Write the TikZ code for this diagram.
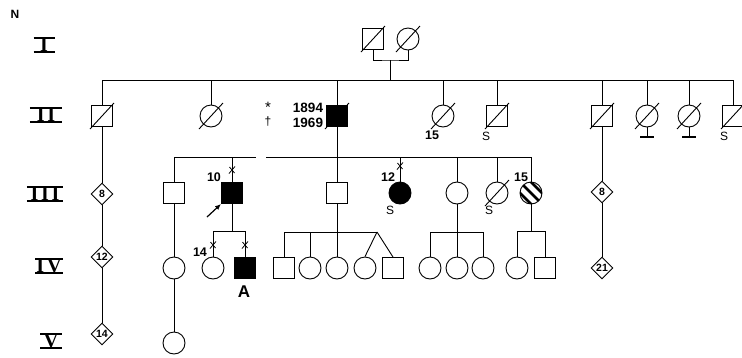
\documentclass[tikz,border=0pt]{standalone}
\usepackage{fontspec}
\usepackage{graphicx}
\setmainfont{Liberation Sans}
\newfontfamily\romfont[LetterSpace=14]{Liberation Serif}
\usetikzlibrary{shapes.geometric,arrows.meta}
\newcommand\rnum[2]{\vbox{\hrule height 2pt\kern-0.8pt\hbox to #1{\hss\romfont\bfseries\fontsize{20}{20}\selectfont #2\hss}\kern-0.6pt\hrule height 2pt}}
\tikzset{
 ln/.style={line width=0.9pt},
 male/.style={draw, line width=0.9pt, rectangle, minimum size=21pt, inner sep=0pt},
 female/.style={draw, line width=0.9pt, circle, minimum size=22pt, inner sep=0pt},
 unk/.style={draw, line width=0.9pt, diamond, minimum size=22pt, inner sep=0pt, font=\bfseries\fontsize{10.5}{10.5}\selectfont},
 aff/.style={fill=black},
 lbl/.style={inner sep=0pt, font=\bfseries\fontsize{12.5}{12.5}\selectfont},
 slbl/.style={inner sep=0pt, font=\fontsize{12}{12}\selectfont},
 yr/.style={inner sep=0pt, font=\bfseries\fontsize{13.5}{13.5}\selectfont},
 gen/.style={inner sep=0pt},
 stripes/.style={path picture={\foreach \k in {-11,-5.5,0,5.5,11} \draw[line width=2.7pt] ([shift={(\k pt+15pt,\k pt-15pt)}]path picture bounding box.center) -- ([shift={(\k pt-15pt,\k pt+15pt)}]path picture bounding box.center);}}
}
\newcommand\slashit[1]{\draw[ln] ([shift={(-12pt,-13pt)}]#1.center) -- ([shift={(12pt,13pt)}]#1.center);}
\newcommand\xmk[1]{\draw[line width=0.8pt] ([shift={(-3pt,-3.5pt)}]#1) -- ([shift={(3pt,3.5pt)}]#1) ([shift={(-2.5pt,3pt)}]#1) -- ([shift={(2.5pt,-3pt)}]#1);}
\begin{document}
\begin{tikzpicture}[x=1pt,y=-1pt]
\clip (0,0) rectangle (742,357);
\fill[white] (0,0) rectangle (742,357);
% generation labels
\node[inner sep=0pt,font=\bfseries\fontsize{12}{12}\selectfont] (N) at (15,14) {N};
\node[gen] (gI) at (44,45) {\rnum{21pt}{I}};
\node[gen] (gII) at (46,115) {\rnum{32pt}{II}};
\node[gen] (gIII) at (45,194) {\rnum{36pt}{III}};
\node[gen] (gIV) at (49,266) {\rnum{28pt}{IV}};
\node[gen] (gV) at (51,341) {\rnum{22pt}{V}};
% generation I
\node[male] (i1) at (373,39) {};
\node[female] (i2) at (408,39) {};
% generation II
\node[male] (ii1) at (102,116) {};
\node[female] (ii2) at (211,116) {};
\node[male,aff] (ii3) at (337,116) {};
\node[female] (ii4) at (443,116) {};
\node[male] (ii5) at (497,116) {};
\node[male] (ii6) at (602,116) {};
\node[female] (ii7) at (647,116) {};
\node[female] (ii8) at (689,116) {};
\node[male] (ii9) at (733,116) {};
% generation III
\node[unk] (iii1) at (102,194) {8};
\node[male] (iii2) at (174,193) {};
\node[male,aff] (iii3) at (232,193) {};
\node[male] (iii4) at (337,193) {};
\node[female,aff] (iii5) at (400,193) {};
\node[female] (iii6) at (457,193) {};
\node[female] (iii7) at (497,193) {};
\node[female,stripes] (iii8) at (531,193) {};
\node[unk] (iii9) at (602,192) {8};
% generation IV
\node[unk] (iv1) at (102,257) {12};
\node[female] (iv2) at (174,268) {};
\node[female] (iv3) at (213,268) {};
\node[male,aff] (iv4) at (245,268) {};
\node[male] (iv5) at (284,268) {};
\node[female] (iv6) at (310,268) {};
\node[female] (iv7) at (337,268) {};
\node[female] (iv8) at (365,268) {};
\node[male] (iv9) at (393,268) {};
\node[female] (iv10) at (430,268) {};
\node[female] (iv11) at (457,268) {};
\node[female] (iv12) at (483,268) {};
\node[female] (iv13) at (517,268) {};
\node[male] (iv14) at (545,268) {};
\node[unk] (iv15) at (602,268) {21};
% generation V
\node[unk] (v1) at (102,334) {14};
\node[female] (v2) at (174,343) {};
% deceased slashes
\foreach \n in {i1,i2,ii1,ii2,ii3,ii4,ii5,ii6,ii7,ii8,ii9,iii7} {\slashit{\n}}
% gen I marriage and sibship
\coordinate (m1) at (390,60);
\coordinate (s2) at (0,80);
\draw[ln] (i1.south) |- (m1) -| (i2.south);
\draw[ln] (m1) -- (m1 |- s2);
\draw[ln] (ii1.north |- s2) -- (ii9.north |- s2);
\foreach \n in {ii1,ii2,ii3,ii4,ii5,ii6,ii7,ii8,ii9} {\draw[ln] (\n.north) -- (\n.north |- s2);}
% bars under ii7 and ii8
\coordinate (b7) at (647,137);
\coordinate (b8) at (689,137);
\draw[ln] (ii7.south) -- (b7);
\draw[ln] (ii8.south) -- (b8);
\draw[line width=1.8pt] ([xshift=-7pt]b7) -- ([xshift=7pt]b7);
\draw[line width=1.8pt] ([xshift=-7pt]b8) -- ([xshift=7pt]b8);
% vertical lines of descent
\draw[ln] (ii1.south) -- (iii1.north);
\draw[ln] (iii1.south) -- (iv1.north);
\draw[ln] (iv1.south) -- (v1.north);
\draw[ln] (ii6.south) -- (iii9.north);
\draw[ln] (iii9.south) -- (iv15.north);
\draw[ln] (iii2.south) -- (iv2.north);
\draw[ln] (iv2.south) -- (v2.north);
% gen III sibship
\coordinate (s3) at (0,157);
\coordinate (gl) at (256,157);
\coordinate (gr) at (266,157);
\draw[ln] (ii3.south) -- (ii3.south |- s3);
\draw[ln] (iii2.north |- s3) -- (gl);
\draw[ln] (gr) -- (iii8.north |- s3);
\foreach \n in {iii2,iii3,iii4,iii5,iii6,iii7,iii8} {\draw[ln] (\n.north) -- (\n.north |- s3);}
% gen IV sibships
\coordinate (s4a) at (0,231);
\coordinate (s4) at (0,232);
\coordinate (tw) at (377,232);
\draw[ln] (iii3.south) -- (iii3.south |- s4a);
\draw[ln] (iv3.north |- s4a) -- (iv4.north |- s4a);
\foreach \n in {iv3,iv4} {\draw[ln] (\n.north) -- (\n.north |- s4a);}
\draw[ln] (iii4.south) -- (iii4.south |- s4);
\draw[ln] (iv5.north |- s4) -- (tw);
\foreach \n in {iv5,iv6,iv7} {\draw[ln] (\n.north) -- (\n.north |- s4);}
\draw[ln] (tw) -- (iv8.north);
\draw[ln] (tw) -- (iv9.north);
\draw[ln] (iii6.south) -- (iii6.south |- s4);
\draw[ln] (iv10.north |- s4) -- (iv12.north |- s4);
\foreach \n in {iv10,iv11,iv12} {\draw[ln] (\n.north) -- (\n.north |- s4);}
\draw[ln] (iii8.south) -- (iii8.south |- s4a);
\draw[ln] (iv13.north |- s4a) -- (iv14.north |- s4a);
\foreach \n in {iv13,iv14} {\draw[ln] (\n.north) -- (\n.north |- s4a);}
% cross marks
\coordinate (x10) at (232,170);
\coordinate (x12) at (400,166);
\coordinate (x14) at (213,245);
\coordinate (xA) at (245,245);
\xmk{x10} \xmk{x12} \xmk{x14} \xmk{xA}
% proband arrow
\coordinate (pa) at (207,217);
\draw[line width=1.2pt,-{Latex[length=6pt,width=5pt]}] (pa) -- (iii3.south west);
% labels
\node[yr] (y1) at (308,108) {1894};
\node[yr] (y2) at (308,123) {1969};
\node[inner sep=0pt,font=\fontsize{15}{15}\selectfont] (st) at (268,107) {*};
\node[inner sep=0pt,font=\fontsize{12}{12}\selectfont] (dg) at (268,122) {†};
\node[lbl] (l15a) at (432,135) {15};
\node[slbl] (sa) at (486,136) {S};
\node[slbl] (sb) at (724,136) {S};
\node[lbl] (l10) at (214,177) {10};
\node[lbl] (l12) at (388,177) {12};
\node[lbl] (l15b) at (521,177) {15};
\node[slbl] (sc) at (390,210) {S};
\node[slbl] (sd) at (489,210) {S};
\node[lbl] (l14) at (200,252) {14};
\node[inner sep=0pt,font=\bfseries\fontsize{17}{17}\selectfont] (lA) at (244,292) {A};
\end{tikzpicture}
\end{document}
